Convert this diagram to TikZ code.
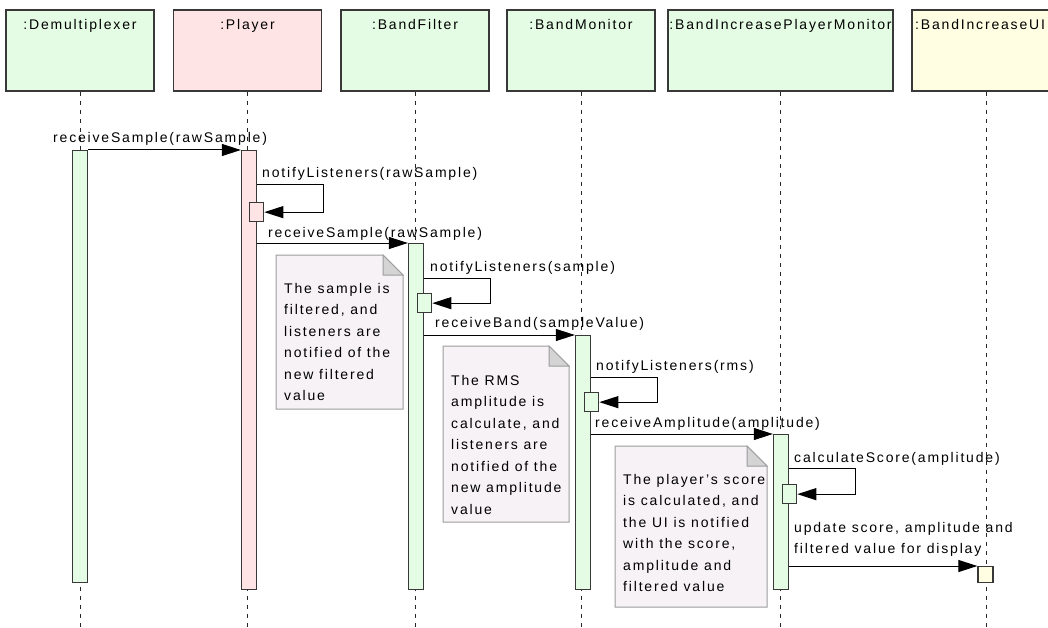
\documentclass[tikz,border=0pt]{standalone}
\usepackage{fontspec}
\setmainfont{Liberation Sans}[LetterSpace=13]
\usetikzlibrary{arrows.meta}
\tikzset{>={Triangle[length=19pt,width=12pt]}}
\definecolor{objgreen}{HTML}{E4FCE4}
\definecolor{objpink}{HTML}{FEE4E4}
\definecolor{objyellow}{HTML}{FFFEE2}
\definecolor{notefill}{HTML}{F6F2F6}
\definecolor{notedraw}{HTML}{9C9C9C}
\definecolor{foldfill}{HTML}{D4D4D4}
\colorlet{edge}{black!78}
\tikzstyle{head}=[draw=edge,line width=1.3pt,minimum width=148pt,minimum height=81pt,inner sep=0pt]
\tikzstyle{bar}=[draw=edge,line width=1.3pt,minimum width=15pt,inner sep=0pt,anchor=north]
\tikzstyle{act}=[draw=edge,line width=1.3pt,minimum width=14pt,minimum height=19pt,inner sep=0pt,anchor=north west]
\tikzstyle{lifeline}=[black!85,line width=1pt,dash pattern=on 4pt off 5pt]
\tikzstyle{msg}=[->,line width=1pt]
\tikzstyle{txt}=[inner sep=0pt,anchor=base west,font=\fontsize{14}{21.5}\selectfont]
\tikzstyle{notetxt}=[txt,anchor=north west,align=left]
% note sheet with folded corner: left, top, right, bottom
\def\notesheet#1#2#3#4{
  \filldraw[notedraw,fill=notefill,line width=1pt]
    (#1,#2) -- (#3-20,#2) -- (#3,#2+20) -- (#3,#4) -- (#1,#4) -- cycle;
  \filldraw[notedraw,fill=foldfill,line width=1pt]
    (#3-20,#2) -- (#3-20,#2+20) -- (#3,#2+20) -- cycle;
}
% self call loop from a bar to its activation box
\def\selfcall#1#2#3{
  \draw[msg] (#1.east |- 0,#3) -- ++(66,0) |- (#2.east);
}

\begin{document}
\begin{tikzpicture}[x=1pt,y=-1pt]
  \useasboundingbox (0,0) rectangle (1048,628);
  \clip (0,0) rectangle (1048,628);

  % OBJECTS
  \node[head,fill=objgreen]  (dmx) at (80,50.5)    {};
  \node[head,fill=objpink]   (ply) at (247.5,50.5) {};
  \node[head,fill=objgreen]  (flt) at (415,50.5)   {};
  \node[head,fill=objgreen]  (mon) at (581,50.5)   {};
  \node[head,fill=objgreen,minimum width=225pt] (bip) at (780.5,50.5) {};
  \node[head,fill=objyellow] (ui)  at (986,50.5)   {};
  \node[txt,anchor=base] (dmxname) at (dmx.north |- 0,30) {:Demultiplexer};
  \node[txt,anchor=base] (plyname) at (ply.north |- 0,30) {:Player};
  \node[txt,anchor=base] (fltname) at (flt.north |- 0,30) {:BandFilter};
  \node[txt,anchor=base] (monname) at (mon.north |- 0,30) {:BandMonitor};
  \node[txt,anchor=base] (bipname) at (bip.north |- 0,30) {:BandIncreasePlayerMonitor};
  \node[txt] (uiname) at (915,30) {:BandIncreaseUI};

  % LIFELINES
  \foreach \o in {dmx,ply,flt,mon,bip,ui}
    \draw[lifeline] (\o.south) -- (\o.south |- 0,628);

  % NOTES
  \notesheet{276}{255}{403}{409}
  \notesheet{443}{346}{569}{522}
  \notesheet{615}{446}{767}{607}
  \node[notetxt] (note1) at (284,283) {The sample is\\filtered, and\\listeners are\\notified of the\\new filtered\\value};
  \node[notetxt] (note2) at (451,375) {The RMS\\amplitude is\\calculate, and\\listeners are\\notified of the\\new amplitude\\value};
  \node[notetxt] (note3) at (623,474) {The player's score\\is calculated, and\\the UI is notified\\with the score,\\amplitude and\\filtered value};

  % ACTIVATIONS
  \node[bar,fill=objgreen,minimum height=432pt] (dmxbar) at (dmx.south |- 0,150) {};
  \node[bar,fill=objpink,minimum height=439pt]  (plybar) at (249,150) {};
  \node[bar,fill=objgreen,minimum height=346pt] (fltbar) at (416,243) {};
  \node[bar,fill=objgreen,minimum height=254pt] (monbar) at (583,335) {};
  \node[bar,fill=objgreen,minimum height=155pt] (bipbar) at (781,434) {};
  \node[bar,fill=objyellow,minimum height=16pt] (uibox)  at (985.5,566) {};
  \node[act,fill=objpink]  (plyact) at (249,202) {};
  \node[act,fill=objgreen] (fltact) at (417,293) {};
  \node[act,fill=objgreen] (monact) at (584,392) {};
  \node[act,fill=objgreen] (bipact) at (782,484) {};

  % MESSAGES
  \draw[msg] (dmxbar.north east) -- (plybar.north west);
  \draw[msg] (plybar.east |- fltbar.north) -- (fltbar.north west);
  \draw[msg] (fltbar.east |- monbar.north) -- (monbar.north west);
  \draw[msg] (monbar.east |- bipbar.north) -- (bipbar.north west);
  \draw[msg] (bipbar.east |- uibox.north) -- (uibox.north west);
  \selfcall{plybar}{plyact}{185}
  \selfcall{fltbar}{fltact}{278}
  \selfcall{monbar}{monact}{377}
  \selfcall{bipbar}{bipact}{468}

  % LABELS
  \node[txt] (m1) at (53,143)  {receiveSample(rawSample)};
  \node[txt] (s1) at (262,178) {notifyListeners(rawSample)};
  \node[txt] (m2) at (268,237) {receiveSample(rawSample)};
  \node[txt] (s2) at (430,271) {notifyListeners(sample)};
  \node[txt] (m3) at (435,327) {receiveBand(sampleValue)};
  \node[txt] (s3) at (596,370) {notifyListeners(rms)};
  \node[txt] (m4) at (595,427) {receiveAmplitude(amplitude)};
  \node[txt] (s4) at (794,462) {calculateScore(amplitude)};
  \node[notetxt] (m5) at (794,522) {update score, amplitude and\\filtered value for display};
\end{tikzpicture}
\end{document}
